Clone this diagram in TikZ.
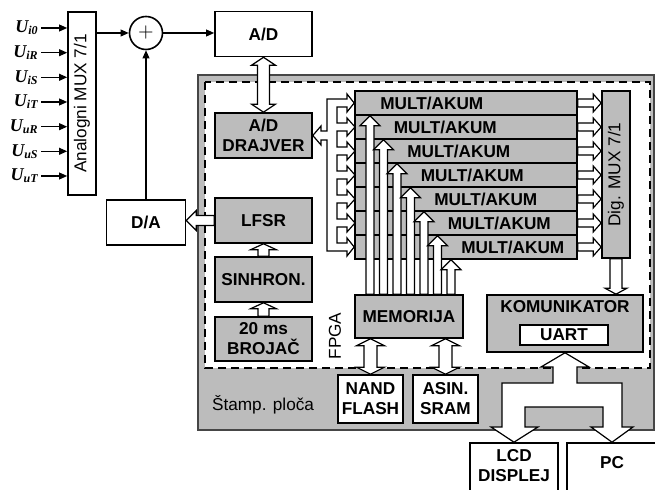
\documentclass[tikz,border=0pt]{standalone}
\usepackage{fontspec}
\setmainfont{Liberation Sans}
\newfontfamily\ufont{Liberation Serif}
\usetikzlibrary{calc,arrows.meta}
\definecolor{boxgray}{RGB}{188,188,188}
\definecolor{edgegray}{RGB}{70,70,70}

% hollow arrow: from, to, shaft half width, head half width, head length
\newcommand\holarrow[5]{%
  \coordinate (ha) at #1; \coordinate (hb) at #2;
  \coordinate (hc) at ($(hb)!#5!(ha)$);
  \draw[conn] ($(ha)!#3!90:(hb)$) -- ($(hc)!#3!90:(hb)$) -- ($(hc)!#4!90:(hb)$) -- (hb)
    -- ($(hc)!#4!-90:(hb)$) -- ($(hc)!#3!-90:(hb)$) -- ($(ha)!#3!-90:(hb)$) -- cycle;
}
% same, head on both ends
\newcommand\holdarrow[5]{%
  \coordinate (ha) at #1; \coordinate (hb) at #2;
  \coordinate (hc) at ($(hb)!#5!(ha)$); \coordinate (hd) at ($(ha)!#5!(hb)$);
  \draw[conn] (ha) -- ($(hd)!#4!90:(hb)$) -- ($(hd)!#3!90:(hb)$) -- ($(hc)!#3!90:(hb)$)
    -- ($(hc)!#4!90:(hb)$) -- (hb) -- ($(hc)!#4!-90:(hb)$) -- ($(hc)!#3!-90:(hb)$)
    -- ($(hd)!#3!-90:(hb)$) -- ($(hd)!#4!-90:(hb)$) -- cycle;
}

\begin{document}
\begin{tikzpicture}[x=0.5pt,y=-0.5pt,
  txt/.style={font=\fontsize{8.6}{10}\selectfont\bfseries,align=center},
  plain/.style={font=\fontsize{8.6}{10}\selectfont},
  wbox/.style={txt,draw,line width=0.8pt,fill=white,inner sep=0pt},
  gbox/.style={wbox,fill=boxgray},
  conn/.style={draw,line width=0.6pt,fill=white,line join=miter},
  sig/.style={line width=0.6pt,-{Triangle[length=4pt,width=3.4pt]}},
  ulab/.style={font=\fontsize{9}{10}\selectfont\ufont\bfseries\itshape,anchor=east,inner sep=1pt}]
\path[use as bounding box,clip] (0,0) rectangle (655,490);

% board and FPGA
\draw[fill=boxgray,draw=edgegray,line width=1pt] (198,75) rectangle (654,430);
\draw[fill=white,dash pattern=on 4pt off 2.5pt,line width=0.7pt] (205,82) rectangle (650,368);
\node[plain,anchor=west] (plate) at (205,405) {Štamp. ploča};
\node[plain,rotate=90] (fpga) at (335,336) {FPGA};

% analog side
\node[wbox,minimum width=14pt,minimum height=91.5pt] (amux) at (82,103.5) {};
\node[plain,rotate=90] (amuxt) at (amux) {Analogni MUX 7/1};
\foreach \k/\sub/\yy in {1/i0/28,2/iR/52.7,3/iS/77.3,4/iT/102,5/uR/126.7,6/uS/151.3,7/uT/176}{
  \node[ulab] (u\k) at (41,\yy) {U\textsubscript{\sub}};
  \draw[sig] (u\k.east) -- (u\k.east -| amux.west);
}
\node[circle,draw,line width=0.8pt,minimum size=16.5pt,inner sep=0pt,font=\fontsize{10}{10}\selectfont] (sum) at (146,33) {$+$};
\node[wbox,minimum width=48.5pt,minimum height=22.5pt] (adc) at (263.5,34) {A/D};
\node[wbox,minimum width=39.5pt,minimum height=22.5pt] (dac) at (146,222.5) {D/A};
\draw[sig] (amux.east |- sum) -- (sum.west);
\draw[sig] (sum.east) -- (sum.east -| adc.west);
\draw[sig] (dac.north) -- (sum.south);

% FPGA blocks
\node[gbox,minimum width=48.5pt,minimum height=22.5pt] (adrv) at (263.5,135.5) {A/D\\DRAJVER};
\node[gbox,minimum width=48.5pt,minimum height=22.5pt] (lfsr) at (263.5,220.5) {LFSR};
\node[gbox,minimum width=48.5pt,minimum height=22.5pt] (sinh) at (263.5,279.5) {SINHRON.};
\node[gbox,minimum width=48.5pt,minimum height=22pt] (broj) at (263.5,339) {20 ms\\BROJAČ};
\node[gbox,minimum width=54pt,minimum height=21.5pt] (mem) at (409,316.5) {MEMORIJA};
\node[wbox,minimum width=32.5pt,minimum height=24pt] (nand) at (370.5,399) {NAND\\FLASH};
\node[wbox,minimum width=32.5pt,minimum height=24pt] (sram) at (445.5,399) {ASIN.\\SRAM};
\node[gbox,minimum width=78pt,minimum height=28.5pt] (kom) at (565,323.5) {};
\node[txt] (komt) at (565,307) {KOMUNIKATOR};
\node[wbox,minimum width=44pt,minimum height=10pt] (uart) at (564,335) {UART};
\node[gbox,minimum width=14pt,minimum height=83.5pt] (dmux) at (616,174.5) {};
\node[plain,rotate=90] (dmuxt) at (dmux) {Dig. MUX 7/1};

% MULT/AKUM rows
\foreach \k/\yy in {1/103,2/127,3/151,4/175,5/199,6/223,7/247}{
  \node[gbox,minimum width=111pt,minimum height=12pt] (mult\k) at (466,\yy) {};
  \holarrow{(mult\k.east)}{(mult\k.east -| dmux.west)}{2pt}{4.5pt}{4pt}
}
\foreach \k/\xx/\yy in {1/370/103,2/383.5/127,3/397/151,4/410.5/175,5/424/199,6/437.5/223,7/451/247}{
  \holarrow{(mem.north -| \xx,0)}{(mult\k.south -| \xx,0)}{2pt}{5pt}{5pt}
  \node[txt,anchor=west,inner sep=0pt] (mt\k) at (\xx+10,\yy) {MULT/AKUM};
}

% bus to the rows and the driver
\draw[conn] (327,99) -- (347,99) -- (347,94) -- (mult1.west) -- (347,112) -- (347,107) -- (337,107)
  \foreach \yy in {127,151,...,223}{ -- (337,\yy-4) -- (347,\yy-4) -- (347,\yy-9) -- (355,\yy)
    -- (347,\yy+9) -- (347,\yy+4) -- (337,\yy+4)}
  -- (337,243) -- (347,243) -- (347,238) -- (mult7.west) -- (347,256) -- (347,251) -- (327,251)
  -- (327,140) -- (321,140) -- (321,145) -- (adrv.east) -- (321,126) -- (321,131) -- (327,131) -- cycle;

\holdarrow{(adc.south)}{(adc.south |- adrv.north)}{3pt}{6pt}{4pt}
\holarrow{(lfsr.west)}{(lfsr.west -| dac.east)}{2.5pt}{5pt}{5pt}
\holarrow{(sinh.north)}{(lfsr.south)}{2.75pt}{6.5pt}{3pt}
\holarrow{(broj.north)}{(sinh.south)}{2.75pt}{6.5pt}{3pt}
\holdarrow{(mem.south -| nand.north)}{(nand.north)}{3.25pt}{7pt}{3.5pt}
\holdarrow{(mem.south -| sram.north)}{(sram.north)}{3.25pt}{7pt}{3.5pt}
\holarrow{(dmux.south)}{(dmux.south |- kom.north)}{3pt}{5.5pt}{3pt}

% outside devices
\node[wbox,minimum width=44pt,minimum height=30pt] (lcd) at (514,473) {};
\node[txt] (lcdt) at (514,466) {LCD\\DISPLEJ};
\node[wbox,minimum width=45pt,minimum height=30pt] (pc) at (612,473) {};
\node[txt] (pct) at (612,463) {PC};
\draw[conn] (kom.south) -- (589,367) -- (577,367) -- (577,383) -- (622,383) -- (622,427) -- (633,427)
  -- (pc.north) -- (591,427) -- (603,427) -- (603,407) -- (525,407) -- (525,427) -- (538,427)
  -- (lcd.north) -- (491,427) -- (502,427) -- (502,383) -- (553,383) -- (553,367) -- (541,367) -- cycle;
\end{tikzpicture}
\end{document}
